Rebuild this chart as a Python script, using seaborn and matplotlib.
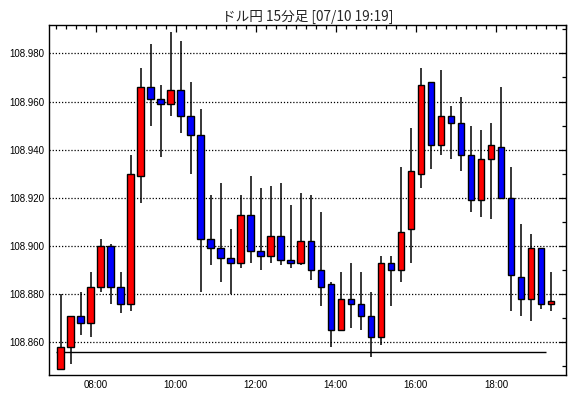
import numpy as np
import pandas as pd
import seaborn as sns
import matplotlib.pyplot as plt
from matplotlib.ticker import MultipleLocator, FuncFormatter

# 15-minute USD/JPY candles, 07:00 .. 19:15
start_time = '07:00'
opens = [108.849, 108.858, 108.871, 108.868, 108.883, 108.900, 108.883, 108.876, 108.929, 108.966,
         108.961, 108.959, 108.965, 108.954, 108.946, 108.903, 108.899, 108.895, 108.893, 108.913,
         108.898, 108.896, 108.904, 108.894, 108.893, 108.902, 108.890, 108.884, 108.865, 108.878,
         108.876, 108.871, 108.862, 108.893, 108.890, 108.907, 108.930, 108.968, 108.942, 108.954,
         108.951, 108.938, 108.919, 108.936, 108.941, 108.920, 108.887, 108.878, 108.899, 108.876]
highs = [108.880, 108.871, 108.881, 108.889, 108.903, 108.901, 108.889, 108.938, 108.974, 108.984,
         108.967, 108.989, 108.985, 108.968, 108.957, 108.921, 108.926, 108.907, 108.921, 108.929,
         108.924, 108.925, 108.926, 108.917, 108.922, 108.921, 108.914, 108.885, 108.889, 108.893,
         108.889, 108.881, 108.896, 108.896, 108.933, 108.949, 108.974, 108.968, 108.973, 108.958,
         108.962, 108.950, 108.948, 108.951, 108.966, 108.933, 108.909, 108.905, 108.899, 108.889]
lows = [108.849, 108.851, 108.863, 108.862, 108.881, 108.876, 108.872, 108.873, 108.918, 108.950,
        108.937, 108.954, 108.947, 108.930, 108.881, 108.892, 108.885, 108.880, 108.891, 108.893,
        108.890, 108.893, 108.892, 108.891, 108.892, 108.886, 108.875, 108.858, 108.865, 108.866,
        108.865, 108.854, 108.859, 108.875, 108.885, 108.893, 108.924, 108.932, 108.938, 108.936,
        108.931, 108.914, 108.912, 108.911, 108.920, 108.873, 108.871, 108.869, 108.874, 108.873]
closes = [108.858, 108.871, 108.868, 108.883, 108.900, 108.883, 108.876, 108.930, 108.966, 108.961,
          108.959, 108.965, 108.954, 108.946, 108.903, 108.899, 108.895, 108.893, 108.913, 108.898,
          108.896, 108.904, 108.894, 108.893, 108.902, 108.890, 108.883, 108.865, 108.878, 108.876,
          108.871, 108.862, 108.893, 108.890, 108.906, 108.931, 108.967, 108.942, 108.954, 108.951,
          108.938, 108.919, 108.936, 108.942, 108.920, 108.888, 108.878, 108.899, 108.876, 108.877]
ref_level = 108.856
ref_from, ref_to = '07:00', '19:15'
title = 'ドル円 15分足 [07/10 19:19]'

def to_hours(s):
    h, m = s.split(':')
    return int(h) + int(m) / 60

df = pd.DataFrame({'open': opens, 'high': highs, 'low': lows, 'close': closes})
df['t'] = to_hours(start_time) + np.arange(len(df)) * 0.25 + 0.125
df['up'] = df['close'] >= df['open']
df['color'] = np.where(df['up'], '#ff0000', '#0000ff')
df['bottom'] = df[['open', 'close']].min(axis=1)
df['height'] = (df['close'] - df['open']).abs().clip(lower=0.0004)

sns.set_style('white')
plt.rcParams['font.family'] = ['Liberation Sans', 'DejaVu Sans']

fig = plt.figure(figsize=(5.7, 3.98), dpi=100)
ax = fig.add_axes([49 / 570, 1 - 375 / 398, 517 / 570, 350 / 398])

# grid
for y in np.arange(108.86, 108.99, 0.02):
    ax.axhline(y, color='black', lw=0.9, ls=(0, (1, 1.5)), zorder=0)

# wicks and bodies
ax.vlines(df['t'], df['low'], df['high'], color='black', lw=1.1, zorder=1)
ax.bar(df['t'], df['height'], bottom=df['bottom'], width=10 / 60,
       color=df['color'], edgecolor='black', linewidth=1.0, zorder=2)

ax.hlines(ref_level, to_hours(ref_from), to_hours(ref_to), color='black', lw=1.0, zorder=1)

ax.set_xlim(6 + 50 / 60, 19.75)
ax.set_ylim(108.8464, 108.9918)

ax.xaxis.set_major_locator(MultipleLocator(2))
ax.xaxis.set_minor_locator(MultipleLocator(0.25))
ax.xaxis.set_major_formatter(FuncFormatter(lambda v, p: '%02d:00' % int(round(v))))
ax.yaxis.set_major_locator(MultipleLocator(0.02))
ax.yaxis.set_minor_locator(MultipleLocator(0.01))
ax.yaxis.set_major_formatter(FuncFormatter(lambda v, p: '%.3f' % v))

ax.tick_params(which='both', direction='in', top=True, right=True, colors='black',
               labelsize=7, width=0.9)
ax.tick_params(which='major', length=5, pad=3.5)
ax.tick_params(which='minor', length=3)
for s in ax.spines.values():
    s.set_color('black')
    s.set_linewidth(1.0)

ax.set_title(title, fontsize=9.8, pad=3, family=['Noto Sans CJK JP', 'DejaVu Sans'])

fig.savefig('out.png', dpi=100, facecolor='white')
